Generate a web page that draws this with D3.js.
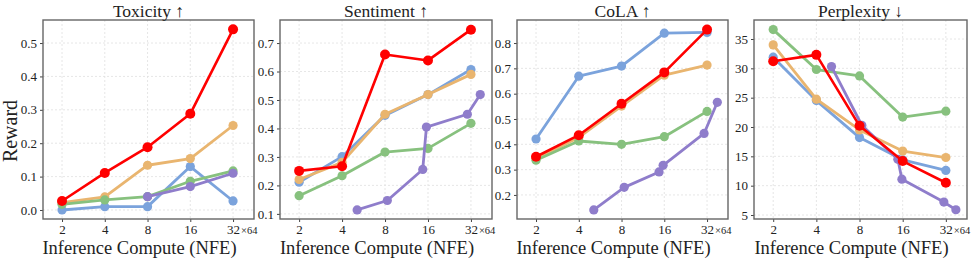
<!DOCTYPE html>
<html>
<head>
<meta charset="utf-8">
<script src="https://cdn.jsdelivr.net/npm/d3@7"></script>
<style>
  body { margin: 0; background: #fff; }
  text { font-family: "Liberation Serif", "Times New Roman", serif; fill: #222; }
</style>
</head>
<body>
<svg id="chart" width="977" height="271"></svg>
<script>
// tick labels on x (NFE, shown with x64)
var nfeTicks = [2, 4, 8, 16, 32];
var seriesNames = ["blue", "orange", "green", "purple", "red"];
var colors = { blue: "#7ba3dc", orange: "#e9b56f", green: "#87c17e", purple: "#8f7dcb", red: "#ff0000" };

// Toxicity
var toxBlue   = [[2, 0.0], [4, 0.01], [8, 0.01], [16, 0.13], [32, 0.027]];
var toxOrange = [[2, 0.022], [4, 0.039], [8, 0.134], [16, 0.154], [32, 0.253]];
var toxGreen  = [[2, 0.017], [4, 0.03], [8, 0.04], [16, 0.086], [32, 0.117]];
var toxPurple = [[8, 0.04], [16, 0.07], [32, 0.11]];
var toxRed    = [[2, 0.027], [4, 0.111], [8, 0.188], [16, 0.288], [32, 0.541]];

// Sentiment
var senBlue   = [[2, 0.211], [4, 0.301], [8, 0.446], [16, 0.519], [32, 0.607]];
var senOrange = [[2, 0.221], [4, 0.281], [8, 0.45], [16, 0.519], [32, 0.59]];
var senGreen  = [[2, 0.164], [4, 0.234], [8, 0.317], [16, 0.33], [32, 0.418]];
var senPurple = [[5.1, 0.114], [8.3, 0.147], [14.7, 0.256], [15.6, 0.405], [30.2, 0.45], [37.2, 0.519]];
var senRed    = [[2, 0.251], [4, 0.267], [8, 0.66], [16, 0.639], [32, 0.747]];

// CoLA
var colBlue   = [[2, 0.421], [4, 0.669], [8, 0.709], [16, 0.839], [32, 0.842]];
var colOrange = [[2, 0.344], [4, 0.427], [8, 0.551], [16, 0.673], [32, 0.713]];
var colGreen  = [[2, 0.337], [4, 0.413], [8, 0.4], [16, 0.43], [32, 0.53]];
var colPurple = [[5.1, 0.141], [8.35, 0.23], [14.7, 0.291], [15.7, 0.317], [30.5, 0.443], [37.8, 0.566]];
var colRed    = [[2, 0.351], [4, 0.436], [8, 0.56], [16, 0.684], [32, 0.853]];

// Perplexity
var pplBlue   = [[2, 31.9], [4, 24.5], [8, 18.2], [16, 14.4], [32, 12.6]];
var pplOrange = [[2, 34.0], [4, 24.75], [8, 19.5], [16, 15.9], [32, 14.8]];
var pplGreen  = [[2, 36.6], [4, 29.8], [8, 28.7], [16, 21.7], [32, 22.7]];
var pplPurple = [[5.1, 30.3], [8.3, 20.3], [14.8, 14.5], [15.8, 11.1], [31.0, 7.2], [37.6, 5.9]];
var pplRed    = [[2, 31.2], [4, 32.3], [8, 20.2], [16, 14.2], [32, 10.5]];

var yTicksTox = [0.0, 0.1, 0.2, 0.3, 0.4, 0.5];
var yTicksSen = [0.1, 0.2, 0.3, 0.4, 0.5, 0.6, 0.7];
var yTicksCol = [0.2, 0.3, 0.4, 0.5, 0.6, 0.7, 0.8];
var yTicksPpl = [5, 10, 15, 20, 25, 30, 35];

var panels = [
  { title: "Toxicity \u2191", left: 43, right: 254, yDomain: [-0.027, 0.569], ticks: yTicksTox, fmt: d3.format(".1f"),
    series: { blue: toxBlue, orange: toxOrange, green: toxGreen, purple: toxPurple, red: toxRed } },
  { title: "Sentiment \u2191", left: 280, right: 492, yDomain: [0.082, 0.781], ticks: yTicksSen, fmt: d3.format(".1f"),
    series: { blue: senBlue, orange: senOrange, green: senGreen, purple: senPurple, red: senRed } },
  { title: "CoLA \u2191", left: 517, right: 728, yDomain: [0.105, 0.891], ticks: yTicksCol, fmt: d3.format(".1f"),
    series: { blue: colBlue, orange: colOrange, green: colGreen, purple: colPurple, red: colRed } },
  { title: "Perplexity \u2193", left: 754, right: 967, yDomain: [4.32, 38.24], ticks: yTicksPpl, fmt: d3.format("d"),
    series: { blue: pplBlue, orange: pplOrange, green: pplGreen, purple: pplPurple, red: pplRed } }
];

var plotTop = 20, plotBottom = 219;
var svg = d3.select("#chart");

panels.forEach(function(p){
  var x = d3.scaleLog().base(2).domain([Math.pow(2, 0.555), Math.pow(2, 5.49)]).range([p.left, p.right]);
  var y = d3.scaleLinear().domain(p.yDomain).range([plotBottom, plotTop]);
  var g = svg.append("g");

  // grid
  g.selectAll(".gx").data(nfeTicks).enter().append("line")
    .attr("x1", function(d){ return x(d); }).attr("x2", function(d){ return x(d); })
    .attr("y1", plotTop).attr("y2", plotBottom)
    .attr("stroke", "#e0e0e0").attr("stroke-width", 0.8).attr("stroke-dasharray", "2,2");
  g.selectAll(".gy").data(p.ticks).enter().append("line")
    .attr("x1", p.left).attr("x2", p.right)
    .attr("y1", function(d){ return y(d); }).attr("y2", function(d){ return y(d); })
    .attr("stroke", "#e0e0e0").attr("stroke-width", 0.8).attr("stroke-dasharray", "2,2");

  // axes
  var xAxis = d3.axisBottom(x).tickValues(nfeTicks).tickFormat(function(d){ return d; }).tickSize(3).tickPadding(3);
  var gx = g.append("g").attr("transform", "translate(0," + plotBottom + ")").call(xAxis);
  var yAxis = d3.axisLeft(y).tickValues(p.ticks).tickFormat(p.fmt).tickSize(3).tickPadding(3);
  var gy = g.append("g").attr("transform", "translate(" + p.left + ",0)").call(yAxis);
  [gx, gy].forEach(function(a){
    a.attr("font-family", null);
    a.select(".domain").remove();
    a.selectAll(".tick line").attr("stroke", "#444");
    a.selectAll(".tick text").attr("font-size", 13).attr("fill", "#222")
      .style("font-family", "'Liberation Serif', serif");
  });

  g.append("text").attr("x", x(32) + 8).attr("y", plotBottom + 15)
    .attr("font-size", 10.5).text("\u00d764");

  // lines and markers
  var line = d3.line().x(function(d){ return x(d[0]); }).y(function(d){ return y(d[1]); });
  seriesNames.forEach(function(name){
    var data = p.series[name];
    var sg = g.append("g");
    sg.append("path").datum(data).attr("d", line)
      .attr("fill", "none").attr("stroke", colors[name])
      .attr("stroke-width", name == "red" ? 2.6 : 2.8).attr("stroke-linejoin", "round");
    sg.selectAll("circle").data(data).enter().append("circle")
      .attr("cx", function(d){ return x(d[0]); })
      .attr("cy", function(d){ return y(d[1]); })
      .attr("r", name == "red" ? 5 : 4.6)
      .attr("fill", colors[name]);
  });

  // frame
  g.append("rect").attr("x", p.left).attr("y", plotTop)
    .attr("width", p.right - p.left).attr("height", plotBottom - plotTop)
    .attr("fill", "none").attr("stroke", "#666").attr("stroke-width", 1.4);

  g.append("text").attr("x", (p.left + p.right) / 2).attr("y", 17)
    .attr("text-anchor", "middle").attr("font-size", 17.5).attr("fill", "#111").text(p.title);

  g.append("text").attr("x", (p.left + p.right) / 2 - 9).attr("y", 254)
    .attr("text-anchor", "middle").attr("font-size", 18.5).attr("fill", "#111").text("Inference Compute (NFE)");
});

svg.append("text").attr("transform", "translate(17,131) rotate(-90)")
  .attr("text-anchor", "middle").attr("font-size", 20).attr("fill", "#111").text("Reward");
</script>
</body>
</html>
